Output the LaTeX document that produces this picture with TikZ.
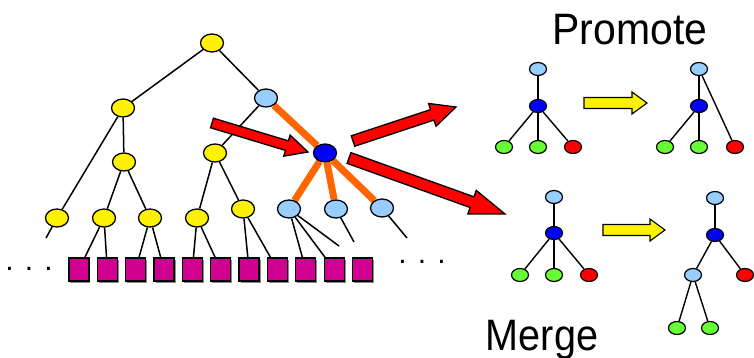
\documentclass[tikz,border=0pt]{standalone}
\usepackage{fontspec}
\setmainfont{Liberation Sans}
\usetikzlibrary{calc,shapes.geometric,shadows,backgrounds}

\definecolor{lblue}{RGB}{153,204,255}
\definecolor{lgreen}{RGB}{102,255,51}
\definecolor{leafpink}{RGB}{210,0,145}
\definecolor{edgeorange}{RGB}{255,102,0}

\newcommand{\fatarrow}[6]{%
  \coordinate (fa) at ($(#2)!#5!(#1)$);
  \draw[#6] ($(#1)!#3!90:(#2)$) -- ($(fa)!#3!90:(#2)$) -- ($(fa)!#4!90:(#2)$) -- (#2)
    -- ($(fa)!#4!-90:(#2)$) -- ($(fa)!#3!-90:(#2)$) -- ($(#1)!#3!-90:(#2)$) -- cycle;
}

\begin{document}
\begin{tikzpicture}[x=1pt,y=-1pt,line width=1.4pt,
  big/.style={ellipse,draw,line width=1.3pt,minimum width=23pt,minimum height=18pt,inner sep=0pt},
  small/.style={ellipse,draw,line width=1.2pt,minimum width=17pt,minimum height=13pt,inner sep=0pt},
  leafbox/.style={rectangle,draw,line width=1.2pt,fill=leafpink,minimum width=20pt,minimum height=23pt,inner sep=0pt,
    drop shadow={shadow xshift=1.5pt,shadow yshift=-1.5pt,fill=black!45,opacity=1}},
  edge/.style={line width=1.5pt},
  hot/.style={edgeorange,line width=7pt},
  redarrow/.style={fill=red,draw=black,line width=1.3pt,line join=miter},
  yelarrow/.style={fill=yellow,draw=black,line width=1.1pt,line join=miter},
  title/.style={font=\fontsize{44}{44}\selectfont,inner sep=0pt,anchor=base},
  dots/.style={font=\fontsize{30}{30}\selectfont,inner sep=0pt,anchor=base}]
\useasboundingbox (0,0) rectangle (754,358);

\node[big,fill=yellow] (root) at (212,43) {};
\node[big,fill=yellow] (la) at (123,108) {};
\node[big,fill=lblue] (lb) at (266,98) {};
\node[big,fill=yellow] (lc) at (124,162) {};
\node[big,fill=yellow] (ld) at (215,153) {};
\node[big,fill=blue] (piv) at (325,153) {};
\node[big,fill=yellow] (y1) at (57,218) {};
\node[big,fill=yellow] (y2) at (104,218) {};
\node[big,fill=yellow] (y3) at (150,218) {};
\node[big,fill=yellow] (y4) at (197,218) {};
\node[big,fill=yellow] (y5) at (243,209) {};
\node[big,fill=lblue] (c1) at (289,209) {};
\node[big,fill=lblue] (c2) at (336,209) {};
\node[big,fill=lblue] (c3) at (382,208) {};
\foreach \i in {1,...,11}
  \node[leafbox] (s\i) at ({50.6+28.35*\i},269.5) {};
\coordinate (o1) at (46,238);
\coordinate (o2) at (339,246);
\coordinate (o3) at (354,242);
\coordinate (o4) at (407,238);
\node[dots] (dl) at (29,270.5) {. . .};
\node[dots] (dr) at (422,263.5) {. . .};

\begin{scope}[on background layer]
\begin{scope}[edge]
\draw (root) -- (la);
\draw (root) -- (lb);
\draw (la) -- (y1);
\draw (la) -- (lc);
\draw (lc) -- (y2);
\draw (lc) -- (y3);
\draw (lb) -- (ld);
\draw (ld) -- (y4);
\draw (ld) -- (y5);
\draw (y1) -- (o1);
\draw (y2) -- (s1);
\draw (y2) -- (s2);
\draw (y3) -- (s3);
\draw (y3) -- (s4);
\draw (y4) -- (s5);
\draw (y4) -- (s6);
\draw (y5) -- (s7);
\draw (y5) -- (s8);
\draw (c1) -- (s9);
\draw (c1) -- (s10);
\draw (c1) -- (o2);
\draw (c2) -- (o3);
\draw (c3) -- (o4);
\draw[hot] (lb) -- (piv);
\draw[hot] (piv) -- (c1);
\draw[hot] (piv) -- (c2);
\draw[hot] (piv) -- (c3);
\end{scope}
\end{scope}

\coordinate (t1) at (212,123);
\coordinate (h1) at (308,152);
\coordinate (t2) at (353,141);
\coordinate (h2) at (456,107);
\coordinate (t3) at (349,158);
\coordinate (h3) at (505,214);
\fatarrow{t1}{h1}{5pt}{11pt}{22pt}{redarrow}
\fatarrow{t2}{h2}{5.5pt}{12pt}{25pt}{redarrow}
\fatarrow{t3}{h3}{5.7pt}{12.5pt}{35pt}{redarrow}

\node[title] (promote) at (630,45) {\scalebox{0.93}[1]{Promote}};
\node[title] (merge) at (542,350) {\scalebox{0.9}[1]{Merge}};

\node[small,fill=lblue] (pa) at (538,69) {};
\node[small,fill=blue] (pb) at (538,106) {};
\node[small,fill=lgreen] (pc) at (504,147) {};
\node[small,fill=lgreen] (pd) at (538,147) {};
\node[small,fill=red] (pe) at (573,147) {};
\draw (pa) -- (pb);
\draw (pb) -- (pc);
\draw (pb) -- (pd);
\draw (pb) -- (pe);

\coordinate (ta) at (584,103);
\coordinate (ha) at (647,103);
\fatarrow{ta}{ha}{5.5pt}{11pt}{15pt}{yelarrow}

\node[small,fill=lblue] (qa) at (699,69) {};
\node[small,fill=blue] (qb) at (699,106) {};
\node[small,fill=lgreen] (qc) at (665,147) {};
\node[small,fill=lgreen] (qd) at (699,147) {};
\node[small,fill=red] (qe) at (735,147) {};
\draw (qa) -- (qb);
\draw (qb) -- (qc);
\draw (qb) -- (qd);
\draw (qa) -- (qe);

\node[small,fill=lblue] (ma) at (554,197) {};
\node[small,fill=blue] (mb) at (554,233) {};
\node[small,fill=lgreen] (mc) at (520,275) {};
\node[small,fill=lgreen] (md) at (554,275) {};
\node[small,fill=red] (me) at (589,275) {};
\draw (ma) -- (mb);
\draw (mb) -- (mc);
\draw (mb) -- (md);
\draw (mb) -- (me);

\coordinate (tb) at (603,230);
\coordinate (hb) at (665,230);
\fatarrow{tb}{hb}{5.5pt}{11pt}{15pt}{yelarrow}

\node[small,fill=lblue] (na) at (715,198) {};
\node[small,fill=blue] (nb) at (715,235) {};
\node[small,fill=lblue] (nc) at (693,275) {};
\node[small,fill=red] (ne) at (745,275) {};
\node[small,fill=lgreen] (nf) at (677,328) {};
\node[small,fill=lgreen] (ng) at (710,328) {};
\draw[line width=2.4pt] (na) -- (nb);
\draw (nb) -- (nc);
\draw (nb) -- (ne);
\draw (nc) -- (nf);
\draw (nc) -- (ng);
\end{tikzpicture}
\end{document}
